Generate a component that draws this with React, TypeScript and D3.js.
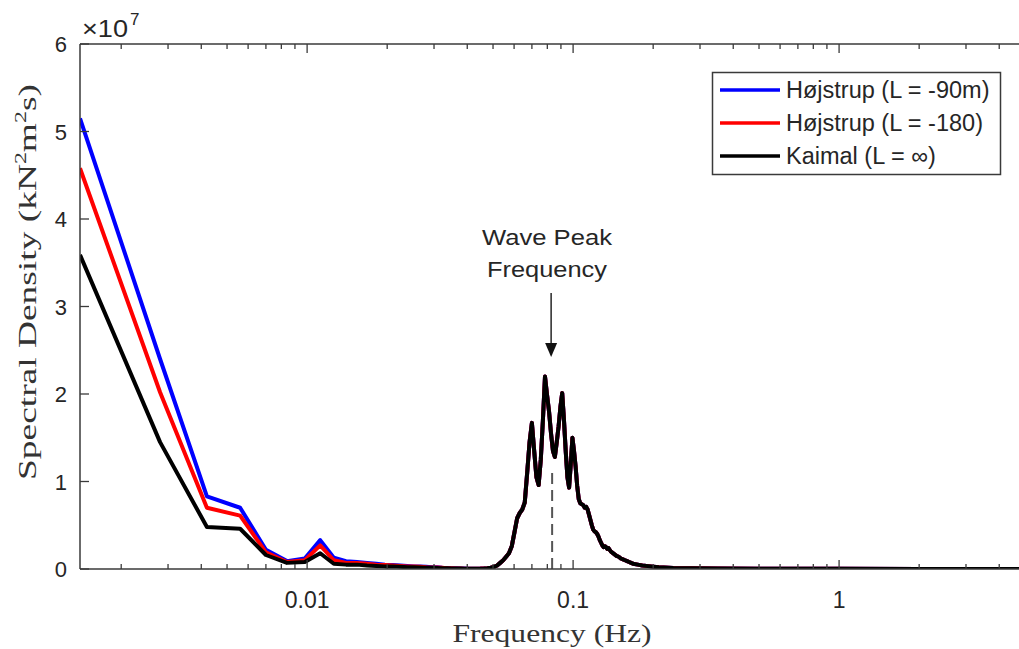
import React from 'react';
import * as d3 from 'd3';

// ---- data (values in units of 1e7 kN^2 m^2 s) ----
const DF = 0.0014; // frequency resolution, Hz
const lowBins = d3.range(1, 34);
const blueLow = [5.15, 2.4, 0.83, 0.7, 0.22, 0.09, 0.12, 0.33, 0.13, 0.09, 0.08, 0.07, 0.06, 0.05, 0.045, 0.04, 0.035, 0.03, 0.03, 0.025, 0.02, 0.02, 0.015, 0.012, 0.01, 0.008, 0.006, 0.005, 0.004, 0.004, 0.004, 0.005, 0.007];
const redLow = [4.58, 2.02, 0.7, 0.61, 0.19, 0.08, 0.1, 0.27, 0.1, 0.07, 0.07, 0.06, 0.05, 0.045, 0.04, 0.035, 0.03, 0.03, 0.025, 0.02, 0.018, 0.016, 0.013, 0.01, 0.009, 0.007, 0.005, 0.004, 0.004, 0.004, 0.004, 0.005, 0.007];
const blackLow = [3.59, 1.45, 0.48, 0.46, 0.16, 0.07, 0.08, 0.18, 0.06, 0.05, 0.05, 0.04, 0.035, 0.03, 0.03, 0.025, 0.02, 0.02, 0.018, 0.015, 0.013, 0.012, 0.01, 0.008, 0.007, 0.006, 0.005, 0.004, 0.003, 0.003, 0.003, 0.004, 0.006];
const waveBins = [...d3.range(34, 101), 102, 104, 106, 108, 110, 112, 114, 116, 118, 120, 125, 130, 140, 150, 170, 200, 250, 357, 714, 1429, 3600];
const waveValues = [
  0.01, 0.015, 0.025, 0.04, 0.07, 0.1, 0.14, 0.18, 0.26, 0.42,
  0.58, 0.64, 0.68, 0.76, 1.1, 1.45, 1.67, 1.35, 1.05, 0.96,
  1.25, 1.7, 2.2, 1.99, 1.8, 1.55, 1.35, 1.28, 1.45, 1.63,
  1.85, 2.01, 1.7, 1.35, 1.05, 0.93, 1.2, 1.5, 1.35, 1.17,
  0.95, 0.8, 0.75, 0.74, 0.73, 0.7, 0.71, 0.68, 0.62, 0.56,
  0.5, 0.45, 0.43, 0.42, 0.4, 0.37, 0.33, 0.3, 0.27, 0.25,
  0.26, 0.25, 0.23, 0.24, 0.22, 0.2, 0.19,
  0.17, 0.15, 0.14, 0.12, 0.11, 0.1, 0.09, 0.08, 0.07, 0.06,
  0.05, 0.04, 0.03, 0.02, 0.012, 0.008, 0.005, 0.003, 0.002, 0.001, 0,
];
const seriesNames = ['Højstrup (L = -90m)', 'Højstrup (L = -180)', 'Kaimal (L = ∞)'];
const seriesColors = ['#0000ff', '#ff0000', '#000000'];
const seriesLow = [blueLow, redLow, blackLow];
const yTicks = [0, 1, 2, 3, 4, 5, 6];
const xMajorTicks = [0.01, 0.1, 1];
const xTickLabels = ['0.01', '0.1', '1'];
const peakFreq = 0.0834;
const peakDashTop = 1.15;

const W = 1019;
const H = 649;
const L = 80, T = 44, B = 569, R = 1025;

export default function App() {
  const x = d3.scaleLog().domain([DF, 5]).range([L, R]);
  const y = d3.scaleLinear().domain([0, 6]).range([B, T]);
  const line = d3.line<[number, number]>().x(d => x(d[0])).y(d => y(d[1]));

  const series = seriesLow.map(low => {
    const pts: [number, number][] = lowBins.map((b, i) => [b * DF, low[i]] as [number, number]);
    waveBins.forEach((b, i) => pts.push([b * DF, waveValues[i]]));
    return pts;
  });

  const allTicks = x.ticks().filter(t => t >= DF && t <= 5);
  const isMajor = (t: number) => xMajorTicks.some(m => Math.abs(m - t) / m < 1e-6);
  const axisColor = '#3a3a3a';
  const textColor = '#262626';
  const sans = '"Liberation Sans", Arial, Helvetica, sans-serif';
  const serif = '"Liberation Serif", "Times New Roman", serif';
  const px = x(peakFreq);

  return (
    <svg width={W} height={H} style={{ position: 'absolute', left: 0, top: 0, background: '#fff' }}>
      <defs>
        <clipPath id="plotclip">
          <rect x={L} y={T} width={R - L} height={B - T} />
        </clipPath>
      </defs>
      <rect x={0} y={0} width={W} height={H} fill="#fff" />

      {/* dashed peak line */}
      <line x1={px} x2={px} y1={y(0)} y2={y(peakDashTop)} stroke="#555" strokeWidth={2} strokeDasharray="11,6" />

      {/* series */}
      <g clipPath="url(#plotclip)">
        {series.map((pts, i) => (
          <path key={i} d={line(pts) || ''} fill="none" stroke={seriesColors[i]} strokeWidth={4} strokeLinejoin="round" />
        ))}
      </g>

      {/* axes */}
      <line x1={L} x2={R} y1={B} y2={B} stroke={axisColor} strokeWidth={1.5} />
      <line x1={L} x2={R} y1={T} y2={T} stroke={axisColor} strokeWidth={1.5} />
      <line x1={L} x2={L} y1={T} y2={B} stroke={axisColor} strokeWidth={1.5} />

      {allTicks.map((t, i) => {
        const len = isMajor(t) ? 9 : 5;
        return (
          <g key={i}>
            <line x1={x(t)} x2={x(t)} y1={B} y2={B - len} stroke={axisColor} strokeWidth={1.3} />
            <line x1={x(t)} x2={x(t)} y1={T} y2={T + len} stroke={axisColor} strokeWidth={1.3} />
          </g>
        );
      })}
      {xMajorTicks.map((t, i) => (
        <text key={i} x={x(t)} y={608} textAnchor="middle" fontFamily={sans} fontSize={23} fill={textColor}>
          {xTickLabels[i]}
        </text>
      ))}

      {yTicks.map((t, i) => (
        <g key={i}>
          <line x1={L} x2={L + 9} y1={y(t)} y2={y(t)} stroke={axisColor} strokeWidth={1.3} />
          <text x={67} y={y(t) + 8} textAnchor="end" fontFamily={sans} fontSize={22} fill={textColor}>
            {t}
          </text>
        </g>
      ))}

      {/* exponent */}
      <text x={82} y={37} fontFamily={sans} fontSize={23} fill={textColor} textLength={46} lengthAdjust="spacingAndGlyphs">
        ×10
      </text>
      <text x={130} y={25} fontFamily={sans} fontSize={17} fill={textColor}>7</text>

      {/* axis labels */}
      <text x={552} y={642} textAnchor="middle" fontFamily={serif} fontSize={25} fill="#333" textLength={199} lengthAdjust="spacingAndGlyphs">
        Frequency (Hz)
      </text>
      <g transform="translate(36,282) rotate(-90)">
        <text x={-198} y={0} fontFamily={serif} fontSize={25} fill="#333" textLength={396} lengthAdjust="spacingAndGlyphs">
          Spectral Density (kN<tspan dy={-10} fontSize={16}>2</tspan><tspan dy={10}>m</tspan><tspan dy={-10} fontSize={16}>2</tspan><tspan dy={10}>s)</tspan>
        </text>
      </g>

      {/* annotation */}
      <text x={547} y={245} textAnchor="middle" fontFamily={sans} fontSize={22} fill={textColor} textLength={130} lengthAdjust="spacingAndGlyphs">
        Wave Peak
      </text>
      <text x={547} y={277} textAnchor="middle" fontFamily={sans} fontSize={22} fill={textColor} textLength={120} lengthAdjust="spacingAndGlyphs">
        Frequency
      </text>
      <line x1={px - 1} x2={px - 1} y1={293} y2={346} stroke="#333" strokeWidth={1.6} />
      <path d={`M${px - 7},${343} L${px + 5},${343} L${px - 1},${357} Z`} fill="#111" />

      {/* legend */}
      <rect x={712.5} y={72.5} width={288} height={102} fill="#fff" stroke={axisColor} strokeWidth={1.5} />
      {seriesNames.map((name, i) => (
        <g key={i}>
          <line x1={720} x2={780} y1={90 + i * 33} y2={90 + i * 33} stroke={seriesColors[i]} strokeWidth={3.5} />
          <text x={786} y={98 + i * 33} fontFamily={sans} fontSize={23.5} fill={textColor}>
            {name}
          </text>
        </g>
      ))}
    </svg>
  );
}
